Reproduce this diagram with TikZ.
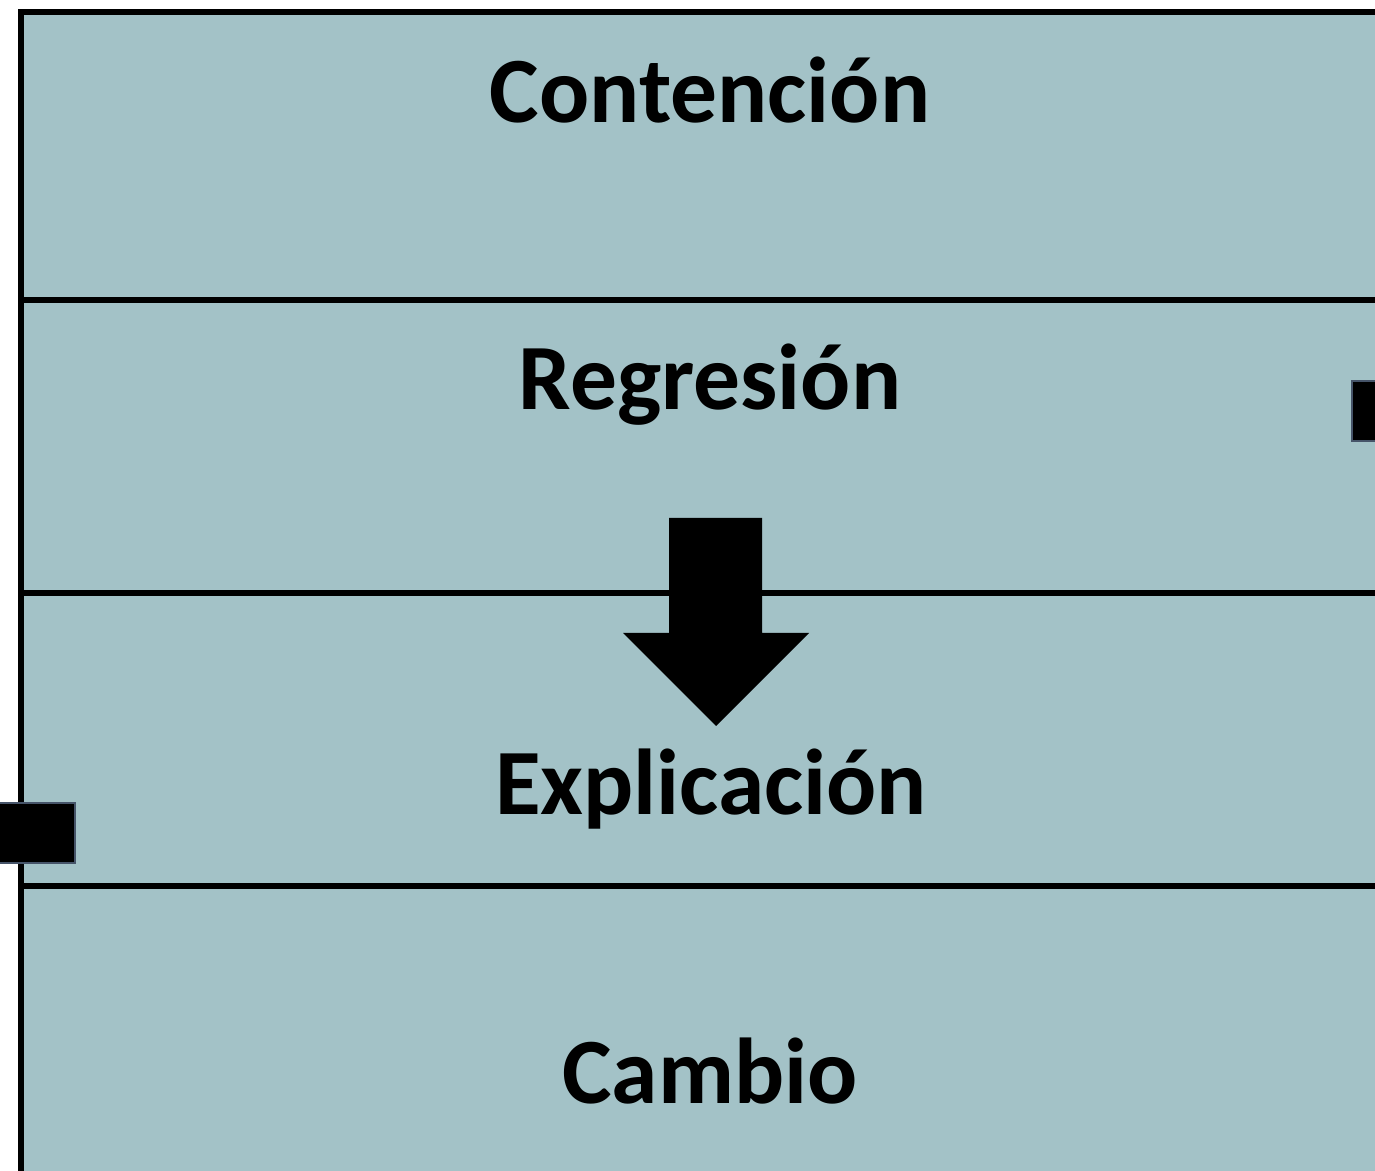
\documentclass[tikz,border=0pt]{standalone}
\usepackage{fontspec}
\setmainfont{Carlito}
\usepackage{xcolor}
\usepackage{tikz}
\usetikzlibrary{positioning}

\definecolor{bandfill}{RGB}{163,194,199}
\definecolor{slateedge}{RGB}{70,84,105}

\begin{document}
\begin{tikzpicture}[x=1pt, y=1pt,
		band/.style = { draw = black, line width = 6pt },
		title/.style = { anchor = base, font = \fontsize{93.5}{100}\selectfont\bfseries, text = black, inner sep = 0pt },
		tab/.style = { fill = black, draw = slateedge, line width = 1.2pt },
		blockarrow/.style = { fill = black },
	]
	    \clip (0,0) rectangle (1375,1170);
	    % frame
	    \fill[bandfill] (21,-20) rectangle (1420,1158);
	    \draw[band] (21,-20) -- (21,1158) -- (1420,1158);
	    \coordinate (L1) at (21,870);  \coordinate (R1) at (1420,870);
	    \coordinate (L2) at (21,577);  \coordinate (R2) at (1420,577);
	    \coordinate (L3) at (21,284);  \coordinate (R3) at (1420,284);
	    \draw[band] (L1) -- (R1);
	    \draw[band] (L2) -- (R2);
	    \draw[band] (L3) -- (R3);
	    % labels
	    \node[title] (Contencion) at (710,1047) {Contención};
	    \node[title] (Regresion) at (710,760) {Regresión};
	    \node[title] (Explicacion) at (711,355) {Explicación};
	    \node[title] (Cambio) at (710,67) {Cambio};
	    % arrow
	    \coordinate (Tip) at (716,444);
	    \fill[blockarrow] (669,652) -- (762,652) -- (762,537) -- (809,537) -- (Tip) -- (623,537) -- (669,537) -- cycle;
	    % tabs
	    \draw[tab] (1352,729) rectangle (1390,789);
	    \draw[tab] (-10,307) rectangle (75,367);
\end{tikzpicture}
\end{document}
